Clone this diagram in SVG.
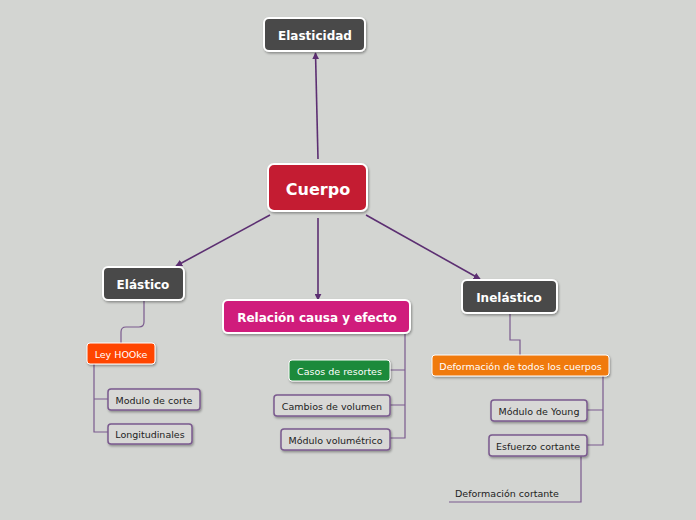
<svg xmlns="http://www.w3.org/2000/svg" width="696" height="520" viewBox="0 0 696 520">
<defs>
<marker id="arr" viewBox="0 0 10 10" refX="9" refY="5" markerWidth="7" markerHeight="7" orient="auto" markerUnits="userSpaceOnUse">
<path d="M0,0 L10,5 L0,10 z" fill="#5c2f72"/>
</marker>
<filter id="sh" x="-10%" y="-10%" width="130%" height="140%">
<feDropShadow dx="1" dy="1.5" stdDeviation="1" flood-color="#000" flood-opacity="0.35"/>
</filter>
</defs>
<style>
text{font-family:"DejaVu Sans","Liberation Sans",sans-serif;text-anchor:middle;dominant-baseline:central}
.main{stroke:#ffffff;stroke-width:2;filter:url(#sh)}
.dark{fill:#4a4a48}
.t1{fill:#fff;font-weight:bold;font-size:12px}
.sub{fill:#d8d8d6;stroke:#7a5a8e;stroke-width:1.5;filter:url(#sh)}
.colsub{stroke:#ffffff;stroke-width:1;filter:url(#sh)}
.t2{fill:#222;font-size:9.5px}
.t2w{fill:#fff;font-size:9.5px}
.c{fill:none;stroke:#5c2f72;stroke-width:1.6}
.b{fill:none;stroke:#7a5a8e;stroke-width:1.2}
</style>
<rect width="696" height="520" fill="#d3d5d2"/>
<g id="connectors">
<line class="c" x1="318" y1="159" x2="315.5" y2="53" marker-end="url(#arr)"/>
<line class="c" x1="270" y1="215" x2="176" y2="266" marker-end="url(#arr)"/>
<line class="c" x1="318" y1="218" x2="318" y2="300" marker-end="url(#arr)"/>
<line class="c" x1="366" y1="215" x2="480" y2="279" marker-end="url(#arr)"/>
<path class="b" d="M144,301 V322 Q144,327 139,327 H126 Q121,327 121,332 V343"/>
<path class="b" d="M94,364 V432 H108 M94,399 H108"/>
<path class="b" d="M405,333 V438 H390 M405,370 H390 M405,405 H390"/>
<path class="b" d="M510,313 V340 H520 V355"/>
<path class="b" d="M603,376 V445 H587 M603,410 H587"/>
<path class="b" d="M581,456 V502 H449"/>
</g>
<g id="elasticidad"><rect class="main dark" x="264" y="18" width="101" height="33" rx="5"/><text class="t1" x="315" y="36">Elasticidad</text></g>
<g id="cuerpo"><rect class="main" fill="#c41f33" x="268" y="164" width="99" height="47" rx="6"/><text class="t1" style="font-size:16px" x="318" y="189">Cuerpo</text></g>
<g id="elastico"><rect class="main dark" x="103" y="267" width="81" height="33" rx="5"/><text class="t1" x="143" y="285">Elástico</text></g>
<g id="relacion"><rect class="main" fill="#d01a7c" x="223" y="300" width="187" height="33" rx="5"/><text class="t1" x="317" y="318">Relación causa y efecto</text></g>
<g id="inelastico"><rect class="main dark" x="462" y="280" width="95" height="33" rx="5"/><text class="t1" x="509" y="298">Inelástico</text></g>
<g id="ley-hooke"><rect class="colsub" fill="#ff4500" x="87" y="343" width="68" height="21" rx="3"/><text class="t2w" x="121" y="354.5">Ley HOOke</text></g>
<g id="modulo-corte"><rect class="sub" x="108" y="389" width="92" height="21" rx="3"/><text class="t2" x="154" y="400">Modulo de corte</text></g>
<g id="longitudinales"><rect class="sub" x="108" y="424" width="84" height="20" rx="3"/><text class="t2" x="150" y="434.5">Longitudinales</text></g>
<g id="casos-resortes"><rect class="colsub" fill="#1e8a3a" x="289" y="360" width="101" height="21" rx="3"/><text class="t2w" x="339.5" y="371">Casos de resortes</text></g>
<g id="cambios-volumen"><rect class="sub" x="274" y="395" width="116" height="21" rx="3"/><text class="t2" x="332" y="406">Cambios de volumen</text></g>
<g id="modulo-volumetrico"><rect class="sub" x="281" y="429" width="109" height="21" rx="3"/><text class="t2" x="335.5" y="440">Módulo volumétrico</text></g>
<g id="deformacion-todos"><rect class="colsub" fill="#f07a10" x="432" y="355" width="177" height="21" rx="3"/><text class="t2w" x="520.5" y="366">Deformación de todos los cuerpos</text></g>
<g id="modulo-young"><rect class="sub" x="491" y="400" width="96" height="21" rx="3"/><text class="t2" x="539" y="411">Módulo de Young</text></g>
<g id="esfuerzo-cortante"><rect class="sub" x="489" y="435" width="98" height="21" rx="3"/><text class="t2" x="538" y="446">Esfuerzo cortante</text></g>
<g id="deformacion-cortante"><text class="t2" style="text-anchor:start" x="455" y="493">Deformación cortante</text></g>
</svg>
